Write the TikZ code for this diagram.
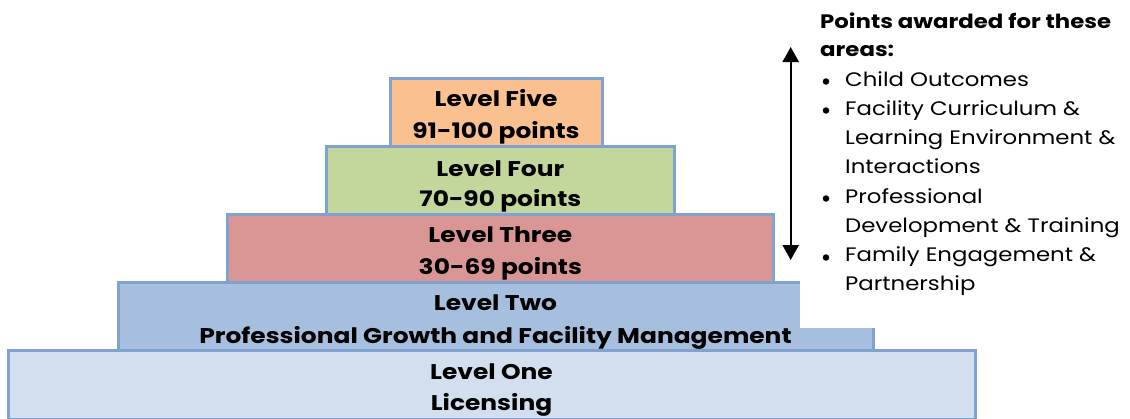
\documentclass[tikz,border=0pt]{standalone}
\usepackage{fontspec}
\setmainfont{Poppins}[FakeStretch=1.17]
\usetikzlibrary{arrows.meta,calc}
\definecolor{bordc}{HTML}{7FA2CE}
\definecolor{cfive}{HTML}{FAC090}
\definecolor{cfour}{HTML}{C3D69B}
\definecolor{cthree}{HTML}{D99694}
\definecolor{ctwo}{HTML}{A7BFDE}
\definecolor{cone}{HTML}{D3DFEE}
\begin{document}
\begin{tikzpicture}[x=1pt,y=-1pt,
  lvl/.style={draw=bordc,line width=3pt,rectangle,inner sep=0pt,outer sep=0pt,anchor=north west},
  lvltext/.style={anchor=base,inner sep=0pt,font=\fontsize{21.3}{25}\selectfont\bfseries},
  side/.style={anchor=base west,inner sep=0pt,font=\fontsize{19.5}{23}\selectfont},
  sidehead/.style={anchor=base west,inner sep=0pt,font=\fontsize{19.5}{23}\selectfont\bfseries},
  bul/.style={circle,fill=black,inner sep=0pt,minimum size=6.5pt},
  twoarrow/.style={line width=2.4pt,{Triangle[width=16pt,length=15pt]}-{Triangle[width=16pt,length=15pt]}}]
\useasboundingbox (0,0) rectangle (1130,418);
\clip (0,0) rectangle (1130,418);
% levels
\node[lvl,fill=cone,minimum width=967pt,minimum height=69pt] (l1) at (8,350) {};
\node[lvl,fill=ctwo,minimum width=755pt,minimum height=68pt] (l2) at (118,282) {};
\fill[white] (800,-5) rectangle (1135,328);
\node[lvl,fill=cthree,minimum width=545.3pt,minimum height=68pt] (l3) at (227.7,214) {};
\node[lvl,fill=cfour,minimum width=347.3pt,minimum height=67.3pt] (l4) at (326.7,146.7) {};
\node[lvl,fill=cfive,minimum width=212pt,minimum height=68.7pt] (l5) at (390,78) {};
% level texts
\node[lvltext] (l5a) at ($(l5.north)+(0,28.7)$) {Level Five};
\node[lvltext] (l5b) at ($(l5a.base)+(0,31.6)$) {91-100 points};
\node[lvltext] (l4a) at ($(l4.north)+(0,29.3)$) {Level Four};
\node[lvltext] (l4b) at ($(l4a.base)+(0,30.7)$) {70-90 points};
\node[lvltext] (l3a) at ($(l3.north)+(0,28.3)$) {Level Three};
\node[lvltext] (l3b) at ($(l3a.base)+(0,31.7)$) {30-69 points};
\node[lvltext] (l2a) at ($(l2.north)+(0,28.7)$) {Level Two};
\node[lvltext] (l2b) at ($(l2a.base)+(0,32.6)$) {Professional Growth and Facility Management};
\node[lvltext] (l1a) at ($(l1.north)+(0,29.3)$) {Level One};
\node[lvltext] (l1b) at ($(l1a.base)+(0,31.4)$) {Licensing};
% side text
\node[sidehead] (h1) at (820,28) {Points awarded for these};
\node[sidehead] (h2) at (820,56) {areas:};
\node[bul] (b1) at (826,81.5) {};
\node[side] (s1) at (845,86) {Child Outcomes};
\node[bul] (b2) at (826,110.5) {};
\node[side] (s2) at (845,115) {Facility Curriculum \&};
\node[side] (s3) at (845,144.3) {Learning Environment \&};
\node[side] (s4) at (845,173.6) {Interactions};
\node[bul] (b3) at (826,198.5) {};
\node[side] (s5) at (845,203) {Professional};
\node[side] (s6) at (845,232.2) {Development \& Training};
\node[bul] (b4) at (826,257.5) {};
\node[side] (s7) at (845,261.5) {Family Engagement \&};
\node[side] (s8) at (845,290.8) {Partnership};
% arrow
\coordinate (atop) at (790.7,47);
\coordinate (abot) at (790.7,260);
\draw[twoarrow] (atop) -- (abot);
\end{tikzpicture}
\end{document}
